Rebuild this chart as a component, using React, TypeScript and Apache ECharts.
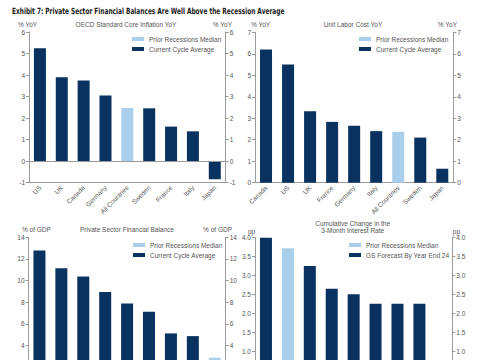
import React, { useEffect, useRef } from "react";
import * as echarts from "echarts";

const exhibitTitle = "Exhibit 7: Private Sector Financial Balances Are Well Above the Recession Average";

const inflationCats = ["US", "UK", "Canada", "Germany", "All Countries", "Sweden", "France", "Italy", "Japan"];
const inflationValues = [5.25, 3.9, 3.75, 3.05, 2.47, 2.45, 1.6, 1.38, -0.85];
const inflationMedianIdx = 4;

const laborCats = ["Canada", "US", "UK", "France", "Germany", "Italy", "All Countries", "Sweden", "Japan"];
const laborValues = [6.2, 5.5, 3.33, 2.83, 2.65, 2.4, 2.37, 2.1, 0.65];
const laborMedianIdx = 6;

const balanceCats = ["Germany", "Japan", "Sweden", "UK", "France", "Italy", "US", "Canada", "All Countries"];
const balanceValues = [12.78, 11.15, 10.38, 8.95, 7.9, 7.12, 5.13, 4.88, 2.88];
const balanceMedianIdx = 8;

const rateCats = ["US", "All Countries", "UK", "Canada", "Sweden", "Germany", "France", "Italy", "Japan"];
const rateValues = [4.0, 3.72, 3.25, 2.65, 2.5, 2.25, 2.25, 2.25, 0];
const rateMedianIdx = 1;

const DARK = "#0a3260";
const LIGHT = "#a9cfec";
const TXT = "#555";
const AX = "#9a9a9a";
const FONT = "Liberation Sans";
const TITLE_FONT = "DejaVu Sans Condensed";

function split(values: number[], mi: number) {
  return {
    cur: values.map((v, i) => (i === mi ? "-" : v)),
    med: values.map((v, i) => (i === mi ? v : "-")),
  };
}

function measure(text: string, font: string) {
  const c = document.createElement("canvas").getContext("2d");
  if (!c) return 0;
  c.font = font;
  return c.measureText(text).width;
}

export default function App() {
  const ref = useRef<HTMLDivElement>(null);
  useEffect(() => {
    if (!ref.current) return;
    const chart = echarts.init(ref.current, undefined, { renderer: "svg" });

    const grids = [
      { left: 29, top: 32, width: 196.7, height: 150.5 },
      { left: 255, top: 32.3, width: 198.3, height: 150.4 },
      { left: 28.5, top: 237.3, width: 197.2, height: 151.7 },
      { left: 255, top: 237.7, width: 197.3, height: 151.1 },
    ];
    const cats = [inflationCats, laborCats, balanceCats, rateCats];
    const vals = [inflationValues, laborValues, balanceValues, rateValues];
    const mis = [inflationMedianIdx, laborMedianIdx, balanceMedianIdx, rateMedianIdx];
    const ranges = [
      { min: -1, max: 6, interval: 1, dec: 0, hideBelow: -Infinity },
      { min: 0, max: 7, interval: 1, dec: 0, hideBelow: -Infinity },
      { min: 0, max: 14, interval: 2, dec: 0, hideBelow: 3 },
      { min: 0, max: 4, interval: 0.5, dec: 1, hideBelow: 0.75 },
    ];
    const curNames = ["Current Cycle Average", "Current Cycle Average", "Current Cycle Average", "GS Forecast By Year End 24"];

    const xAxis: any[] = [];
    const yAxis: any[] = [];
    const series: any[] = [];
    const legend: any[] = [];

    for (let g = 0; g < 4; g++) {
      xAxis.push({
        type: "category",
        gridIndex: g,
        data: cats[g],
        axisLine: { onZero: false, lineStyle: { color: AX } },
        axisTick: { show: false },
        axisLabel: {
          show: g < 2,
          rotate: 45,
          fontSize: 6.5,
          color: TXT,
          fontFamily: FONT,
          margin: 4,
          interval: 0,
        },
      });
      for (const pos of ["left", "right"]) {
        yAxis.push({
          type: "value",
          gridIndex: g,
          position: pos,
          min: ranges[g].min,
          max: ranges[g].max,
          interval: ranges[g].interval,
          splitLine: { show: false },
          axisLine: { show: true, lineStyle: { color: AX } },
          axisTick: { show: true, length: 3, lineStyle: { color: AX } },
          axisLabel: {
            fontSize: 6.5,
            color: TXT,
            fontFamily: FONT,
            margin: 4,
            formatter: (v: number) => (v < ranges[g].hideBelow ? "" : v.toFixed(ranges[g].dec)),
          },
        });
      }
      const s = split(vals[g], mis[g]);
      series.push({
        type: "bar",
        name: curNames[g],
        xAxisIndex: g,
        yAxisIndex: g * 2,
        data: s.cur,
        barWidth: 12,
        barGap: "-100%",
        itemStyle: { color: DARK },
        markLine:
          g === 0
            ? {
                silent: true,
                symbol: "none",
                label: { show: false },
                lineStyle: { color: AX, type: "solid", width: 1 },
                data: [{ yAxis: 0 }],
              }
            : undefined,
      });
      series.push({
        type: "bar",
        name: "Prior Recessions Median",
        xAxisIndex: g,
        yAxisIndex: g * 2,
        data: s.med,
        barWidth: 12,
        barGap: "-100%",
        itemStyle: { color: LIGHT },
      });
    }

    const legendPos = [
      { left: 132, top: 35 },
      { left: 359, top: 35 },
      { left: 133, top: 241 },
      { left: 349, top: 241 },
    ];
    for (let g = 0; g < 4; g++) {
      legend.push({
        orient: "vertical",
        left: legendPos[g].left,
        top: legendPos[g].top,
        data: ["Prior Recessions Median", curNames[g]],
        icon: "rect",
        itemWidth: 12,
        itemHeight: 4,
        itemGap: 2,
        padding: 0,
        textStyle: { fontSize: 6.5, color: TXT, fontFamily: FONT, lineHeight: 8 },
        selectedMode: false,
      });
    }

    const t = (x: number, y: number, text: string, align: string = "left") => ({
      type: "text",
      x,
      y,
      style: { text, fill: TXT, fontSize: 6.5, fontFamily: FONT, align, verticalAlign: "middle" },
    });

    const titleFont = `bold 8.5px "${TITLE_FONT}"`;
    const w = measure(exhibitTitle, titleFont);
    const sx = w > 0 ? 273 / w : 1;

    const graphic: any[] = [
      {
        type: "text",
        x: 12,
        y: 11,
        scaleX: sx,
        style: {
          text: exhibitTitle,
          fill: "#1a1a1a",
          fontSize: 8.5,
          fontWeight: "bold",
          fontFamily: TITLE_FONT,
          verticalAlign: "middle",
        },
      },
      t(18, 24, "% YoY"),
      t(126, 24, "OECD Standard Core Inflation YoY", "center"),
      t(232, 24, "% YoY", "right"),
      t(251, 24, "% YoY"),
      t(353, 24, "Unit Labor Cost YoY", "center"),
      t(457, 24, "% YoY", "right"),
      t(22, 229.5, "% of GDP"),
      t(127, 229.5, "Private Sector Financial Balance", "center"),
      t(232, 229.5, "% of GDP", "right"),
      t(352.7, 223, "Cumulative Change in the", "center"),
      t(352.7, 230.5, "3-Month Interest Rate", "center"),
      t(248, 231, "pp"),
      t(460, 231, "pp", "right"),
    ];

    chart.setOption({
      animation: false,
      backgroundColor: "#fff",
      grid: grids,
      xAxis,
      yAxis,
      series,
      legend,
      graphic,
    });
    return () => chart.dispose();
  }, []);
  return (
    <div
      ref={ref}
      style={{ position: "fixed", left: 0, top: 0, width: 485, height: 400, background: "#fff" }}
    />
  );
}
